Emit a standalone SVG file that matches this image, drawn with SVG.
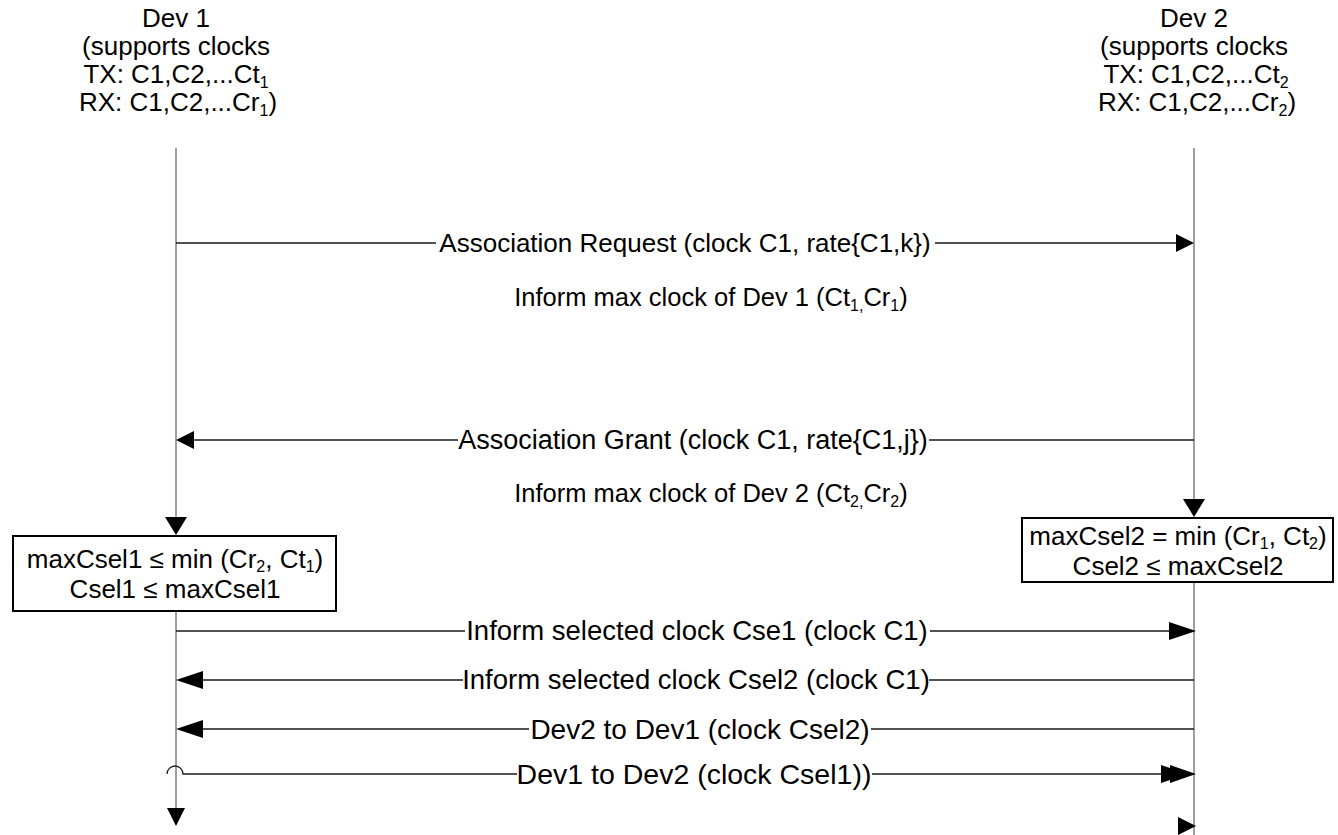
<svg xmlns="http://www.w3.org/2000/svg" width="1338" height="835" viewBox="0 0 1338 835">
  <style>
    .t { font-family: "Liberation Sans", Arial, sans-serif; font-size: 26px; fill: #000; }
    .c { text-anchor: middle; }
    .big { font-size: 27.5px; }
    .sub { font-size: 16px; }
    .life { stroke: #808080; stroke-width: 1.5; fill: none; }
    .msg { stroke: #1a1a1a; stroke-width: 1.3; fill: none; }
    .ah { fill: #000; stroke: none; }
    .box { fill: #fff; stroke: #000; stroke-width: 2; }
  </style>
  <rect width="1338" height="835" fill="#fff"/>

  <!-- Device 1 header -->
  <g id="dev1">
    <text class="t c" x="176" y="27">Dev 1</text>
    <text class="t c" x="176" y="55">(supports clocks</text>
    <text class="t c" x="176" y="83">TX: C1,C2,...Ct<tspan class="sub" dy="5">1</tspan></text>
    <text class="t c" x="178" y="111">RX: C1,C2,...Cr<tspan class="sub" dy="5">1</tspan><tspan dy="-5">)</tspan></text>
  </g>

  <!-- Device 2 header -->
  <g id="dev2">
    <text class="t c" x="1194" y="27">Dev 2</text>
    <text class="t c" x="1194" y="55">(supports clocks</text>
    <text class="t c" x="1196" y="83">TX: C1,C2,...Ct<tspan class="sub" dy="5">2</tspan></text>
    <text class="t c" x="1197" y="111">RX: C1,C2,...Cr<tspan class="sub" dy="5">2</tspan><tspan dy="-5">)</tspan></text>
  </g>

  <g id="connectors">
    <!-- lifelines -->
    <path class="life" d="M176,148 V520 M176,611 V810"/>
    <path class="life" d="M1194,148 V502 M1194,582 V835"/>
    <!-- lifeline arrowheads -->
    <polygon class="ah" points="176,535 165,517 187,517"/>
    <polygon class="ah" points="176,826 167,808 185,808"/>
    <polygon class="ah" points="1194,517 1183,499 1205,499"/>
    <polygon class="ah" points="1196,826 1178,817 1178,835"/>

    <!-- Association Request -->
    <path class="msg" d="M176,243 H436 M935,243 H1180"/>
    <polygon class="ah" points="1194,243 1176,234 1176,252"/>
    <!-- Association Grant -->
    <path class="msg" d="M190,440 H458 M929,440 H1194"/>
    <polygon class="ah" points="176,440 194,431 194,449"/>
    <!-- Inform selected clock Cse1 -->
    <path class="msg" d="M176,631 H465 M930,631 H1175"/>
    <polygon class="ah" points="1196,631 1169,622 1169,640"/>
    <!-- Inform selected clock Csel2 -->
    <path class="msg" d="M195,680 H463 M929,680 H1194"/>
    <polygon class="ah" points="176,680 203,671 203,689"/>
    <!-- Dev2 to Dev1 -->
    <path class="msg" d="M195,729 H529 M871,729 H1194"/>
    <polygon class="ah" points="176,729 203,720 203,738"/>
    <!-- Dev1 to Dev2, hopping over the lifeline -->
    <path class="msg" d="M167,774 A8,8 0 0 1 183,774 H517 M872,774 H1165"/>
    <polygon class="ah" points="1188,774 1161,765 1161,783"/>
    <polygon class="ah" points="1196,774 1170,765 1170,783"/>
  </g>

  <!-- message labels -->
  <g id="labels">
    <text class="t c" x="685" y="252">Association Request (clock C1, rate{C1,k})</text>
    <text class="t c" x="711" y="306" style="font-size:25.5px">Inform max clock of Dev 1 (Ct<tspan class="sub" dy="5">1,</tspan><tspan dy="-5">Cr</tspan><tspan class="sub" dy="5">1</tspan><tspan dy="-5">)</tspan></text>
    <text class="t c" x="693" y="449" style="font-size:27px">Association Grant (clock C1, rate{C1,j})</text>
    <text class="t c" x="711" y="502" style="font-size:25.5px">Inform max clock of Dev 2 (Ct<tspan class="sub" dy="5">2,</tspan><tspan dy="-5">Cr</tspan><tspan class="sub" dy="5">2</tspan><tspan dy="-5">)</tspan></text>
    <text class="t c big" x="697" y="640">Inform selected clock Cse1 (clock C1)</text>
    <text class="t c big" x="696" y="689">Inform selected clock Csel2 (clock C1)</text>
    <text class="t c" x="700" y="739" style="font-size:28px">Dev2 to Dev1 (clock Csel2)</text>
    <text class="t c" x="694" y="784" style="font-size:28.5px">Dev1 to Dev2 (clock Csel1))</text>
  </g>

  <!-- Device 1 clock selection -->
  <g id="sel1">
    <rect class="box" x="13" y="536" width="323" height="75"/>
    <text class="t c" x="175" y="568">maxCsel1 ≤ min (Cr<tspan class="sub" dy="4">2</tspan><tspan dy="-4">, Ct</tspan><tspan class="sub" dy="4">1</tspan><tspan dy="-4">)</tspan></text>
    <text class="t c" x="175" y="598">Csel1 ≤ maxCsel1</text>
  </g>

  <!-- Device 2 clock selection -->
  <g id="sel2">
    <rect class="box" x="1022" y="518" width="311" height="64"/>
    <text class="t c" x="1178" y="545">maxCsel2 = min (Cr<tspan class="sub" dy="4">1</tspan><tspan dy="-4">, Ct</tspan><tspan class="sub" dy="4">2</tspan><tspan dy="-4">)</tspan></text>
    <text class="t c" x="1178" y="575">Csel2 ≤ maxCsel2</text>
  </g>
</svg>
